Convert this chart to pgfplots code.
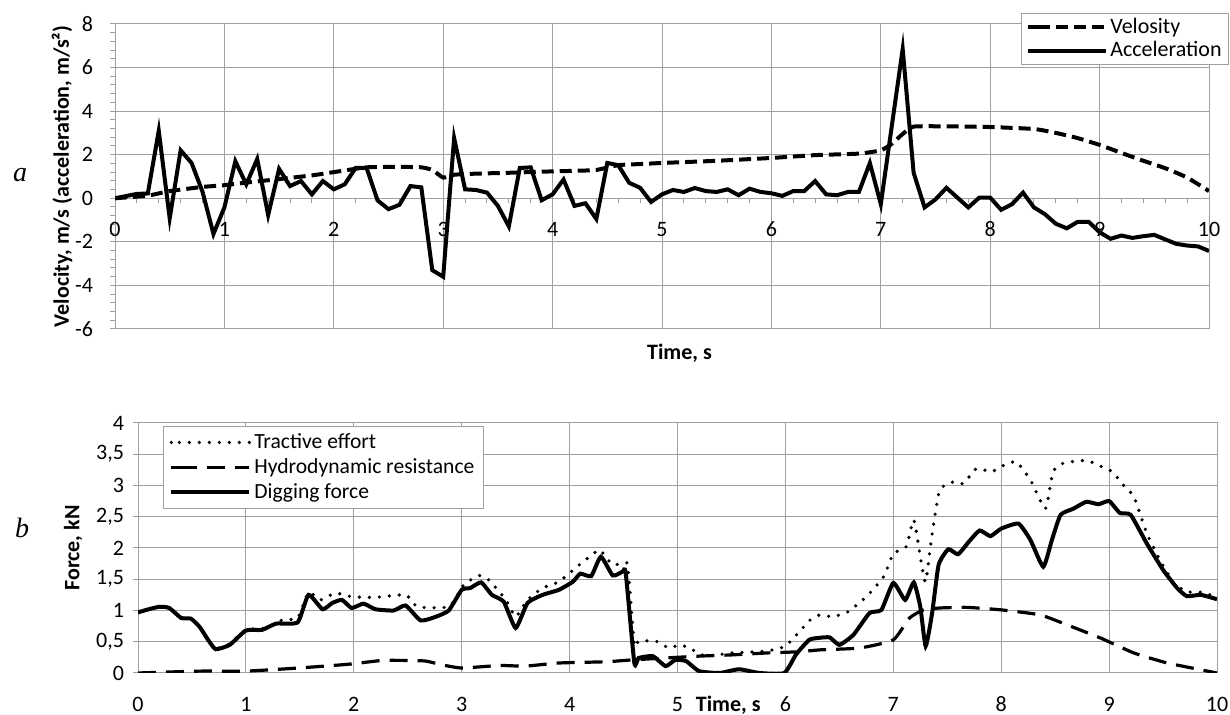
\documentclass[border=0pt]{standalone}
\usepackage{pgfplots}
\pgfplotsset{compat=1.18}
\usepackage{fontspec}
\setmainfont{Carlito}
\newfontfamily\serifit{Liberation Serif}
\definecolor{gridgray}{RGB}{160,160,160}
\begin{document}
\begin{tikzpicture}[x=1pt,y=1pt,font=\fontsize{11}{13}\selectfont]
\useasboundingbox (0,0) rectangle (615,357.5);
% ---------------- top panel
\begin{axis}[
  at={(57.5pt,193pt)}, anchor=south west,
  scale only axis, width=547pt, height=152.5pt,
  xmin=0, xmax=10, ymin=-6, ymax=8,
  axis x line=middle, axis y line=left,
  hide obscured x ticks=false, hide obscured y ticks=false,
  axis line style={gridgray, line width=0.5pt, -},
  xtick={0,1,...,10}, xticklabels={0,1,2,3,4,5,6,7,8,9,10},
  ytick={-6,-4,...,8}, yticklabels={-6,-4,-2,0,2,4,6,8},
  minor x tick num=4, minor y tick num=4,
  tick align=outside,
  major tick length=2.5pt, minor tick length=2.5pt,
  tick style={gridgray, line width=0.5pt},
  grid=major, major grid style={gridgray, line width=0.5pt},
  xticklabel style={text height=7pt, text depth=0pt, yshift=-6pt},
  yticklabel style={xshift=-5pt},
  xlabel={\bfseries Time, s},
  xlabel style={at={(axis description cs:0.516,-0.079)}, anchor=center},
  ylabel={\bfseries Velocity, m/s (acceleration, m/s²)},
  ylabel style={at={(axis description cs:-0.0484,0.5)}, anchor=center},
  legend style={at={(axis description cs:1.018,1.036)}, anchor=north east,
    draw=gridgray, line width=0.5pt, fill=white, inner xsep=2pt, inner ysep=1pt,
    nodes={inner sep=1.3pt}, font=\fontsize{11}{13}\selectfont},
  legend cell align=left,
  legend image code/.code={\path (0pt,0pt) -- (5pt,0pt);\draw[#1] (5pt,0pt) -- (39pt,0pt);},
]
\addplot[black, line width=2pt, dash pattern=on 6pt off 3pt, smooth, tension=0.3] coordinates {
(0,0)(0.3,0.12)(0.5,0.33)(0.8,0.52)(1.0,0.6)(1.2,0.72)(1.5,0.88)(1.8,1.05)(2.0,1.2)(2.3,1.42)(2.6,1.44)(2.8,1.42)(2.9,1.3)(3.0,0.95)(3.1,1.08)(3.3,1.13)(3.6,1.17)(3.9,1.22)(4.2,1.26)(4.4,1.3)(4.6,1.52)(4.8,1.57)(5.0,1.62)(5.5,1.72)(6.0,1.85)(6.4,1.98)(6.8,2.05)(7.0,2.2)(7.1,2.5)(7.2,2.95)(7.3,3.29)(7.6,3.3)(8.0,3.27)(8.4,3.18)(8.6,3.0)(8.8,2.76)(9.0,2.45)(9.2,2.08)(9.4,1.72)(9.6,1.38)(9.8,0.95)(10,0.33)
};
\addlegendentry{Velosity}
\addplot[black, line width=2pt] coordinates {
(0,0)(0.1,0.1)(0.2,0.2)(0.3,0.22)(0.4,3.1)(0.5,-0.92)(0.6,2.2)(0.7,1.62)(0.8,0.3)(0.9,-1.64)(1.0,-0.42)(1.1,1.7)(1.2,0.64)(1.3,1.8)(1.4,-0.77)(1.5,1.35)(1.6,0.56)(1.7,0.79)(1.8,0.18)(1.9,0.79)(2.0,0.41)(2.1,0.64)(2.2,1.39)(2.3,1.39)(2.4,-0.1)(2.5,-0.5)(2.6,-0.3)(2.7,0.56)(2.8,0.5)(2.9,-3.3)(3.0,-3.6)(3.1,2.76)(3.2,0.41)(3.3,0.38)(3.4,0.26)(3.5,-0.35)(3.6,-1.29)(3.7,1.39)(3.8,1.42)(3.9,-0.09)(4.0,0.18)(4.1,0.86)(4.2,-0.35)(4.3,-0.23)(4.4,-0.95)(4.5,1.62)(4.6,1.52)(4.7,0.71)(4.8,0.48)(4.9,-0.17)(5.0,0.18)(5.1,0.38)(5.2,0.29)(5.3,0.47)(5.4,0.33)(5.5,0.29)(5.6,0.41)(5.7,0.14)(5.8,0.44)(5.9,0.29)(6.0,0.23)(6.1,0.11)(6.2,0.33)(6.3,0.33)(6.4,0.79)(6.5,0.18)(6.6,0.14)(6.7,0.29)(6.8,0.29)(6.9,1.62)(7.0,-0.27)(7.1,3.3)(7.2,6.85)(7.3,1.17)(7.4,-0.42)(7.5,-0.05)(7.6,0.48)(7.7,0.03)(7.8,-0.42)(7.9,0.03)(8.0,0.03)(8.1,-0.53)(8.2,-0.27)(8.3,0.26)(8.4,-0.42)(8.5,-0.73)(8.6,-1.17)(8.7,-1.38)(8.8,-1.08)(8.9,-1.08)(9.0,-1.56)(9.1,-1.86)(9.2,-1.71)(9.3,-1.82)(9.4,-1.74)(9.5,-1.68)(9.6,-1.89)(9.7,-2.09)(9.8,-2.17)(9.9,-2.21)(10,-2.42)
};
\addlegendentry{Acceleration}
\end{axis}
% ---------------- bottom panel
\begin{axis}[
  at={(69pt,21pt)}, anchor=south west,
  scale only axis, width=539.5pt, height=125pt,
  xmin=0, xmax=10, ymin=0, ymax=4,
  axis line style={gridgray, line width=0.5pt},
  xtick={0,1,...,10}, xticklabels={0,1,2,3,4,5,6,7,8,9,10},
  ytick={0,0.5,...,4}, yticklabels={0,{0,5},1,{1,5},2,{2,5},3,{3,5},4},
  ytick pos=left, xtick pos=bottom,
  tick align=outside,
  major tick length=2.5pt,
  x tick style={draw=none},
  tick style={gridgray, line width=0.5pt},
  grid=major, major grid style={gridgray, line width=0.5pt},
  xticklabel style={text height=7pt, text depth=0pt, yshift=-6pt},
  yticklabel style={xshift=-1pt},
  xlabel={\bfseries Time, s},
  xlabel style={at={(axis description cs:0.547,-0.13)}, anchor=center},
  ylabel={\bfseries Force, kN},
  ylabel style={at={(axis description cs:-0.060,0.5)}, anchor=center},
  legend style={at={(axis description cs:0.023,0.988)}, anchor=north west,
    draw=gridgray, line width=0.5pt, fill=white, inner xsep=3pt, inner ysep=2pt,
    nodes={inner sep=1.5pt}, row sep=0.5pt, font=\fontsize{10.8}{13}\selectfont},
  legend cell align=left,
  legend image code/.code={\path (0pt,0pt) -- (4pt,0pt);\draw[#1] (4pt,0pt) -- (39pt,0pt);},
]
\addplot[black, line width=1.8pt, line cap=round, dash pattern=on 0pt off 5pt, smooth, tension=0.3] coordinates {
(0,0.97)(0.1,1.02)(0.2,1.06)(0.29,1.04)(0.4,0.88)(0.49,0.87)(0.57,0.74)(0.65,0.53)(0.72,0.39)(0.85,0.47)(1.0,0.69)(1.18,0.72)(1.34,0.85)(1.48,0.88)(1.58,1.29)(1.69,1.17)(1.83,1.28)(1.98,1.22)(2.2,1.21)(2.48,1.25)(2.59,1.06)(2.88,1.06)(3.02,1.41)(3.16,1.56)(3.25,1.49)(3.41,1.17)(3.5,0.90)(3.61,1.17)(3.75,1.36)(3.9,1.46)(4.09,1.73)(4.27,1.97)(4.32,1.89)(4.4,1.73)(4.51,1.76)(4.54,1.7)(4.6,0.45)(4.64,0.51)(4.8,0.51)(4.92,0.40)(5.02,0.45)(5.11,0.40)(5.26,0.27)(5.5,0.32)(5.82,0.35)(6.0,0.43)(6.16,0.72)(6.23,0.85)(6.32,0.93)(6.44,0.90)(6.58,0.98)(6.75,1.22)(6.91,1.54)(7.0,1.91)(7.12,2.02)(7.19,2.45)(7.26,1.76)(7.3,1.46)(7.36,2.23)(7.43,2.93)(7.56,3.06)(7.65,3.03)(7.77,3.27)(7.91,3.22)(8.02,3.32)(8.14,3.38)(8.27,3.09)(8.41,2.63)(8.48,3.22)(8.58,3.36)(8.79,3.40)(8.92,3.31)(9.03,3.22)(9.13,3.01)(9.23,2.82)(9.35,2.23)(9.47,1.81)(9.6,1.44)(9.72,1.30)(9.88,1.29)(10,1.20)
};
\addlegendentry{Tractive effort}
\addplot[black, line width=1.6pt, dash pattern=on 9pt off 5pt, smooth, tension=0.3] coordinates {
(0,0)(0.57,0.03)(1.0,0.03)(1.49,0.08)(1.95,0.14)(2.26,0.2)(2.54,0.2)(2.67,0.19)(2.82,0.13)(3.0,0.08)(3.35,0.12)(3.59,0.11)(3.9,0.16)(4.34,0.18)(4.58,0.21)(4.89,0.24)(5.2,0.27)(5.51,0.29)(5.82,0.32)(6.13,0.34)(6.32,0.37)(6.69,0.4)(7.0,0.53)(7.15,0.88)(7.28,1.01)(7.43,1.04)(7.68,1.05)(8.0,1.01)(8.36,0.93)(8.61,0.77)(8.92,0.56)(9.23,0.32)(9.54,0.16)(10,0)
};
\addlegendentry{Hydrodynamic resistance}
\addplot[black, line width=2pt, smooth, tension=0.3] coordinates {
(0,0.97)(0.1,1.02)(0.2,1.06)(0.29,1.04)(0.4,0.88)(0.49,0.87)(0.57,0.74)(0.65,0.53)(0.72,0.38)(0.85,0.45)(1.0,0.68)(1.15,0.69)(1.28,0.79)(1.48,0.81)(1.58,1.25)(1.71,1.02)(1.8,1.12)(1.89,1.17)(1.98,1.04)(2.09,1.11)(2.2,1.02)(2.37,1.0)(2.48,1.08)(2.62,0.84)(2.76,0.90)(2.88,1.0)(3.0,1.33)(3.08,1.36)(3.18,1.45)(3.28,1.25)(3.39,1.14)(3.5,0.72)(3.61,1.12)(3.75,1.25)(3.9,1.33)(4.03,1.46)(4.10,1.59)(4.2,1.55)(4.29,1.86)(4.4,1.56)(4.49,1.62)(4.52,1.6)(4.6,0.16)(4.64,0.24)(4.77,0.27)(4.89,0.11)(4.98,0.21)(5.08,0.19)(5.2,0.03)(5.39,0)(5.57,0.06)(5.76,0)(5.99,0)(6.1,0.3)(6.22,0.53)(6.3,0.56)(6.41,0.57)(6.5,0.45)(6.63,0.61)(6.78,0.96)(6.89,1.01)(7.0,1.44)(7.11,1.17)(7.19,1.45)(7.25,1.06)(7.3,0.43)(7.36,0.96)(7.42,1.73)(7.51,1.98)(7.6,1.90)(7.7,2.10)(7.8,2.28)(7.9,2.19)(8.0,2.31)(8.16,2.39)(8.27,2.13)(8.39,1.70)(8.47,2.13)(8.55,2.53)(8.67,2.63)(8.79,2.74)(8.9,2.70)(9.0,2.75)(9.1,2.56)(9.2,2.53)(9.35,2.07)(9.5,1.65)(9.63,1.36)(9.72,1.23)(9.85,1.25)(10,1.18)
};
\addlegendentry{Digging force}
\end{axis}
\node[font=\serifit\itshape\fontsize{14}{16}\selectfont] at (10pt,270pt) {a};
\node[font=\serifit\itshape\fontsize{14}{16}\selectfont] at (11pt,93.5pt) {b};
\end{tikzpicture}
\end{document}
